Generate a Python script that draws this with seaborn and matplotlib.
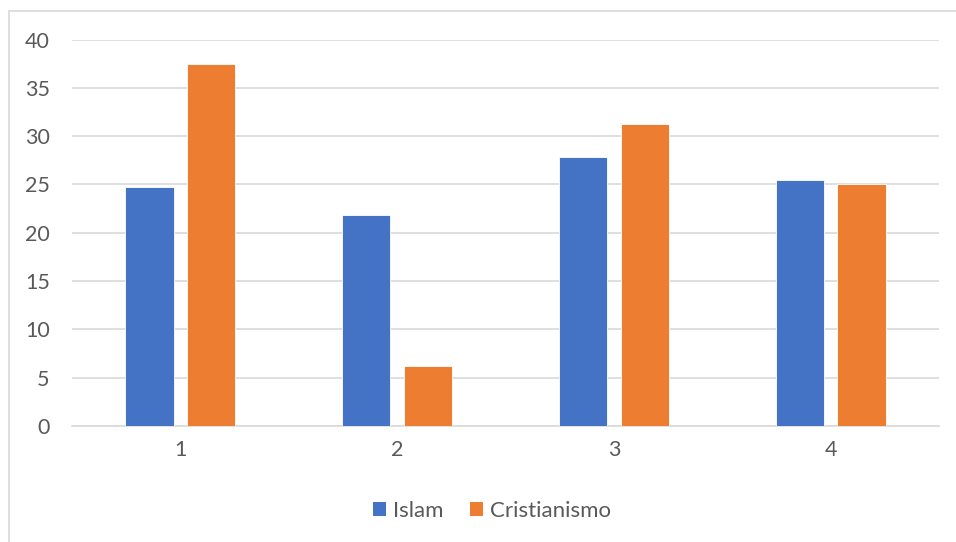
import matplotlib
matplotlib.use("Agg")
import matplotlib.pyplot as plt
import seaborn as sns
import pandas as pd
from matplotlib.patches import Patch

categories = ["1", "2", "3", "4"]
islam = [24.7, 21.8, 27.8, 25.5]
cristianismo = [37.5, 6.25, 31.25, 25.0]
series_names = ["Islam", "Cristianismo"]
colors = ["#4472C4", "#ED7D31"]
yticks = [0, 5, 10, 15, 20, 25, 30, 35, 40]

df = pd.DataFrame({
    "cat": categories * 2,
    "val": islam + cristianismo,
    "serie": [series_names[0]] * 4 + [series_names[1]] * 4,
})

sns.set_theme(style="white")
plt.rcParams["font.family"] = ["Lato", "DejaVu Sans"]

W, H = 956, 542
fig = plt.figure(figsize=(W / 100, H / 100), dpi=100)
ax = fig.add_axes([72 / W, (H - 426) / H, (939 - 72) / W, (426 - 39.5) / H])

sns.barplot(data=df, x="cat", y="val", hue="serie", palette=colors, saturation=1,
            width=0.569, gap=0.216, ax=ax, legend=False,
            edgecolor="white", linewidth=0.6, zorder=3)

ax.set_xlim(-0.5, 3.5)
ax.set_ylim(0, 40)
ax.set_yticks(yticks)
ax.set_xlabel("")
ax.set_ylabel("")
ax.grid(axis="y", color="#D9D9D9", linewidth=1.2, zorder=0)
ax.set_axisbelow(True)
for s in ["top", "right", "left"]:
    ax.spines[s].set_visible(False)
ax.spines["bottom"].set_color("#D9D9D9")
ax.spines["bottom"].set_linewidth(1.2)
ax.tick_params(axis="both", length=0, labelsize=15.5, colors="#595959")
ax.tick_params(axis="y", pad=16)
ax.tick_params(axis="x", pad=10)

handles = [Patch(facecolor=c, edgecolor="none") for c in colors]
fig.legend(handles, series_names, loc="center", bbox_to_anchor=(492 / W, 1 - 511 / H),
           ncol=2, frameon=False, fontsize=16, labelcolor="#595959",
           handlelength=0.6, handleheight=0.6, handletextpad=0.3, columnspacing=1.2)

# chart border (left and top visible)
fig.add_artist(plt.Line2D([8.5 / W, 8.5 / W], [0, 1 - 11 / H], color="#D9D9D9", linewidth=1.2))
fig.add_artist(plt.Line2D([8.5 / W, 1], [1 - 11 / H, 1 - 11 / H], color="#D9D9D9", linewidth=1.2))

fig.savefig("out.png", dpi=100, facecolor="white")
